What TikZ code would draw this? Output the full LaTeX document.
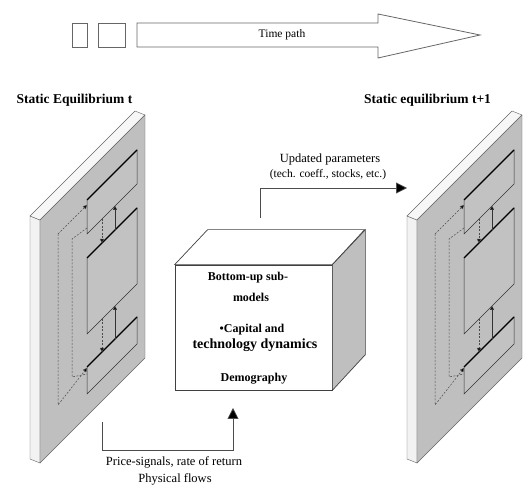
\documentclass[tikz,border=0pt]{standalone}
\usepackage{fontspec}
\setmainfont{Liberation Serif}
\usepackage{tikz}
\usetikzlibrary{calc,arrows.meta}

\tikzset{
  lbl/.style={font=\fontsize{12.5}{14}\selectfont, inner sep=0pt},
  boxtxt/.style={font=\fontsize{12}{14}\selectfont\bfseries, inner sep=0pt},
  sub/.style={fill=gray!48, draw=black!80, line width=0.5pt},
  topedge/.style={draw=black, line width=1.2pt},
  feed/.style={draw=black!70, dash pattern=on 2pt off 1.5pt, line width=0.5pt},
  tip/.style={-{Triangle[length=4pt,width=4pt,fill=black]}},
  flow/.style={draw=black!70, line width=0.7pt, -{Triangle[length=11pt,width=11pt,fill=black]}}
}

\begin{document}
\begin{tikzpicture}[x=1pt,y=1pt]
	\useasboundingbox (0,0) rectangle (523,485);
	\node[draw=black!60, line width=0.8pt, minimum width=15pt, minimum height=24pt] (R1) at (79.5,450) {};
	\node[draw=black!60, line width=0.8pt, minimum width=27pt, minimum height=24pt] (R2) at (111.5,450) {};
	\draw[color=black!60, line width=0.8pt] (137,438) -- (378,438) -- (378,427) -- (480,450) -- (378,471) -- (378,462) -- (137,462) -- cycle;
	\node[lbl, font=\fontsize{11.5}{13}\selectfont] (time) at (282,450) {Time path};
	\node[lbl, font=\fontsize{13.5}{15}\selectfont\bfseries] (eqt) at (74.5,385) {Static Equilibrium t};
	\node[lbl, font=\fontsize{13.5}{15}\selectfont\bfseries] (eqt1) at (427.5,385) {Static equilibrium t+1};
	\foreach \dx in {0,377} {
	  \begin{scope}[shift={(\dx,0)}]
	    \filldraw[fill=gray!10, draw=black!60, line width=0.4pt] (30,26) -- (40,22) -- (40,265) -- (30,269) -- cycle;
	    \filldraw[fill=gray!6, draw=black!60, line width=0.4pt] (30,269) -- (40,265) -- (145,370) -- (135,374) -- cycle;
	    \filldraw[fill=gray!50, draw=black!60, line width=0.4pt] (40,22) -- (145,127) -- (145,370) -- (40,265) -- cycle;
	    \begin{scope}[cm={1,1,0,1,(40,22)}]
	      \draw[sub] (47,182) rectangle (97,216);
	      \draw[sub] (47,82) rectangle (97,158);
	      \draw[sub] (47,22) rectangle (97,49);
	      \draw[topedge] (47,216) -- (97,216);
	      \draw[topedge] (47,158) -- (97,158);
	      \draw[topedge] (47,49) -- (97,49);
	      \draw[feed, tip] (62,182) -- (62,158);
	      \draw[draw=black!80, line width=0.5pt, tip] (75,158) -- (75,182);
	      \draw[feed, tip] (62,82) -- (62,49);
	      \draw[draw=black!80, line width=0.5pt, tip] (75,49) -- (75,82);
	      \draw[feed, tip] (18,211) -- (47,211);
	      \draw[feed, tip] (18,211) -- (18,40) -- (47,48);
	      \draw[feed] (47,188) -- (32,192) -- (32,54) -- (47,42);
	    \end{scope}
	  \end{scope}
	}
	\node[draw=black!75, fill=white, line width=0.7pt, minimum width=157pt, minimum height=125pt, inner sep=0pt] (cube) at (253.5,157.5) {};
	\filldraw[fill=white, draw=black!75, line width=0.7pt] (cube.north west) -- ++(33,35) -- ++(157,0) -- (cube.north east) -- cycle;
	\filldraw[fill=gray!50, draw=black!75, line width=0.7pt] (cube.north east) -- ++(33,35) -- ++(0,-125) -- (cube.south east) -- cycle;
	\node[boxtxt] (bu) at (248,207) {Bottom-up sub-};
	\node[boxtxt] (mod) at (251,188) {models};
	\node[boxtxt] (cap) at (252,155) {•Capital and};
	\node[boxtxt, font=\fontsize{14}{16}\selectfont\bfseries] (tech) at (255,140) {technology dynamics};
	\node[boxtxt] (demo) at (254,106) {Demography};
	\coordinate (upd) at (260,267);
	\coordinate (updend) at (407,297);
	\draw[flow] (upd) |- (updend);
	\node[lbl] (par) at (330,326) {Updated parameters};
	\node[lbl, font=\fontsize{11.5}{13}\selectfont] (coef) at (328,310) {(tech. coeff., stocks, etc.)};
	\coordinate (sig) at (102,63);
	\coordinate (sigend) at (233,77);
	\draw[flow] (sig) -- ++(0,-28) -| (sigend);
	\node[lbl] (price) at (174,23) {Price-signals, rate of return};
	\node[lbl] (phys) at (175,6) {Physical flows};
\end{tikzpicture}
\end{document}
